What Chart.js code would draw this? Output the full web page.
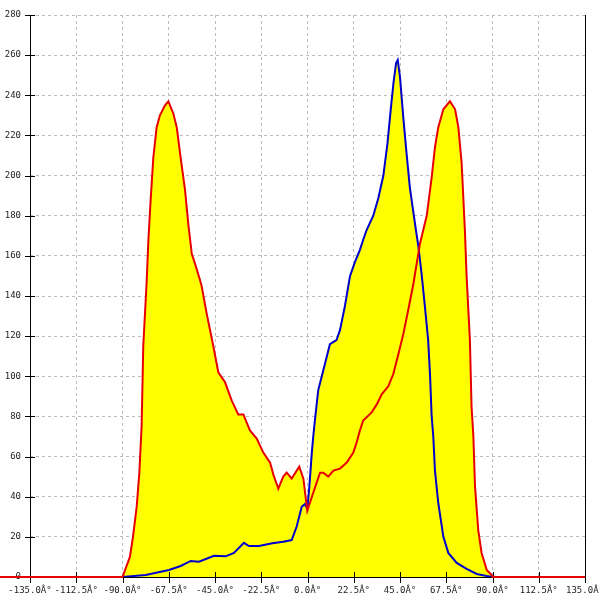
<!DOCTYPE html>
<html>
<head>
<meta charset="utf-8">
<script src="https://cdn.jsdelivr.net/npm/chart.js@4/dist/chart.umd.min.js"></script>
<style>
  html, body { margin: 0; padding: 0; background: #fff; }
</style>
</head>
<body>
<canvas id="myChart" width="600" height="600"></canvas>
<script>
// angles (degrees) and counts
var redAngles = [-150, -135, -90.0, -86.4, -84.9, -83.1, -81.8, -80.7, -79.9, -78.2, -77.4, -76.3, -75.0, -73.4, -71.8, -69.3, -67.7,
    -65.3, -63.6, -62.0, -59.6, -58.0, -56.3, -54.7, -52.3, -51.5, -49.0, -45.8, -43.4, -40.1, -36.9, -33.7, -31.2, -28.0,
    -24.7, -21.5, -18.2, -16.6, -14.2, -11.8, -10.1, -7.7, -4.0, -2.0, -0.1, 2.8, 6.1, 7.7, 10.1, 12.6, 15.8, 19.1,
    22.3, 23.9, 25.5, 27.1, 31.2, 33.7, 36.1, 39.3, 41.7, 44.2, 46.6, 49.0, 51.5, 53.1, 54.7, 58.0, 60.4, 62.0,
    63.6, 66.1, 69.3, 71.8, 73.4, 75.0, 76.6, 77.4, 79.0, 79.8, 80.7, 81.5, 83.1, 84.7, 87.2, 89.6, 90.0, 135, 150];
var redCounts = [0, 0, 0, 10, 20, 35, 52, 75, 115, 148, 168, 188, 209, 224, 230, 235, 237,
    231, 224, 211, 193, 176, 161, 156, 148, 145, 131, 115, 102, 97, 88, 81, 81, 73,
    69, 62, 57, 51, 44, 50, 52, 49, 55, 49, 33, 42, 52, 52, 50, 53, 54, 57,
    62, 67, 73, 78, 82, 86, 91, 95, 101, 111, 121, 133, 146, 156, 166, 180, 199, 214,
    224, 233, 237, 233, 224, 206, 172, 150, 118, 85, 70, 45, 23, 12, 3.5, 1, 0, 0, 0];

var blueAngles = [-90.0, -78.7, -67.4, -61.7, -56.8, -52.8, -45.5, -39.8, -35.8, -30.9, -28.5, -23.6, -17.1, -11.8, -7.7,
    -5.3, -2.8, -1.2, -0.1, 0.9, 2.1, 2.8, 3.6, 5.2, 7.7, 10.9, 14.1, 15.8, 18.2, 20.7, 23.1, 25.5, 27.1, 28.8,
    32.0, 34.5, 36.9, 38.9, 40.5, 41.8, 43.1, 43.9, 45.0, 46.6, 48.2, 49.8, 52.3, 53.9, 55.5, 57.1, 58.7, 59.6,
    60.4, 61.2, 62.0, 63.6, 66.1, 68.5, 72.6, 77.4, 82.3, 87.2, 90.0];
var blueCounts = [0, 1, 3.5, 5.5, 8, 7.6, 10.6, 10.3, 12, 17, 15.4, 15.4, 16.8, 17.6, 18.4,
    25, 35, 36.4, 33.7, 45, 62, 70, 78, 93, 103, 116, 118, 123, 135, 150, 157, 163, 168, 173,
    180, 189, 200, 216, 233, 246, 256, 257.6, 249, 229, 211, 194, 176, 165, 151, 135, 118, 101,
    80, 70, 53, 37, 20, 12, 7, 4, 1.5, 0.5, 0];

var xTicks = [-135, -112.5, -90, -67.5, -45, -22.5, 0, 22.5, 45, 67.5, 90, 112.5, 135];
var yTicks = [0, 20, 40, 60, 80, 100, 120, 140, 160, 180, 200, 220, 240, 260, 280];

function toPoints(xs, ys) {
    return xs.map(function (x, i) { return { x: x, y: ys[i] }; });
}

// axis lines and tick marks that cross the axes
var axisPlugin = {
    id: 'axisLines',
    beforeDatasetsDraw: function (chart) {
        var ctx = chart.ctx;
        var a = chart.chartArea;
        var xs = chart.scales.x, ys = chart.scales.y;
        ctx.save();
        ctx.strokeStyle = '#000';
        ctx.lineWidth = 1;
        ctx.beginPath();
        ctx.moveTo(a.left + 0.5, a.top);
        ctx.lineTo(a.left + 0.5, a.bottom + 6);
        ctx.moveTo(a.right + 0.5, a.top);
        ctx.lineTo(a.right + 0.5, a.bottom + 6);
        ctx.moveTo(a.left, a.bottom + 0.5);
        ctx.lineTo(a.right, a.bottom + 0.5);
        xTicks.forEach(function (t) {
            var px = Math.round(xs.getPixelForValue(t)) + 0.5;
            ctx.moveTo(px, a.bottom - 5);
            ctx.lineTo(px, a.bottom + 6);
        });
        yTicks.forEach(function (t) {
            var py = Math.round(ys.getPixelForValue(t)) + 0.5;
            ctx.moveTo(a.left - 5, py);
            ctx.lineTo(a.left + 5, py);
        });
        ctx.stroke();
        ctx.restore();
    }
};

new Chart("myChart", {
    type: "line",
    data: {
        datasets: [{
            data: toPoints(redAngles, redCounts),
            borderColor: "#e60000",
            backgroundColor: "#ffff00",
            borderWidth: 2,
            fill: 'origin',
            pointRadius: 0,
            tension: 0,
            clip: false
        }, {
            data: toPoints(blueAngles, blueCounts),
            borderColor: "#0000cc",
            backgroundColor: "#ffff00",
            borderWidth: 2,
            fill: 'origin',
            pointRadius: 0,
            tension: 0
        }]
    },
    plugins: [axisPlugin],
    options: {
        responsive: false,
        animation: false,
        events: [],
        layout: { padding: { top: 15, right: 15, left: 0, bottom: 0 } },
        plugins: {
            legend: { display: false },
            tooltip: { enabled: false },
            filler: { drawTime: 'beforeDatasetsDraw' }
        },
        scales: {
            x: {
                type: 'linear',
                min: -135,
                max: 135,
                afterBuildTicks: function (s) { s.ticks = xTicks.map(function (v) { return { value: v }; }); },
                afterFit: function (s) { s.height = 23; s.paddingLeft = 0; s.paddingRight = 0; },
                grid: { color: '#bdbdbd', drawTicks: false },
                border: { display: false, dash: [3, 3] },
                ticks: {
                    padding: 8,
                    maxRotation: 0,
                    autoSkip: false,
                    color: '#222',
                    font: { family: 'DejaVu Sans Mono', size: 9 },
                    callback: function (v) { return v.toFixed(1) + 'Â°'; }
                }
            },
            y: {
                min: 0,
                max: 280,
                afterBuildTicks: function (s) { s.ticks = yTicks.map(function (v) { return { value: v }; }); },
                afterFit: function (s) { s.width = 30; },
                grid: { color: '#bdbdbd', drawTicks: false },
                border: { display: false, dash: [3, 3] },
                ticks: {
                    padding: 9,
                    color: '#222',
                    font: { family: 'DejaVu Sans Mono', size: 9 }
                }
            }
        }
    }
});
</script>
</body>
</html>
